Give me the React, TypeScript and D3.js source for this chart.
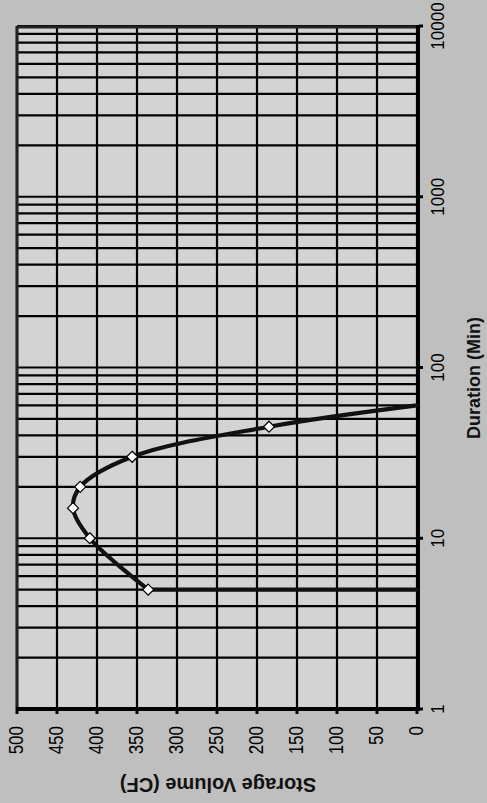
import React from 'react'
import * as d3 from 'd3'

// Storage volume vs. duration (chart is printed rotated 90° counter-clockwise)
const durations = [5, 5, 10, 15, 20, 30, 45, 60]
const volumes = [0, 336, 409, 430, 421, 356, 185, 0]
const hasMarker = [false, true, true, true, true, true, true, false]

const volumeTicks = [0, 50, 100, 150, 200, 250, 300, 350, 400, 450, 500]
const durationTicks = [1, 10, 100, 1000, 10000]

const W = 487
const H = 803
// plot box in screen coords
const PLOT = { left: 17, right: 417, top: 26, bottom: 709 }

const FONT = '"Liberation Sans", Arial, sans-serif'

type Pt = { dur: number; vol: number; marker: boolean }

export default function App() {
  // volume runs right -> left, duration runs bottom -> top
  const xVol = d3.scaleLinear().domain([0, 500]).range([PLOT.right, PLOT.left])
  const yDur = d3.scaleLog().domain([1, 10000]).range([PLOT.bottom, PLOT.top])

  const points: Pt[] = durations.map((d, i) => ({ dur: d, vol: volumes[i], marker: hasMarker[i] }))

  const straight = d3
    .line<Pt>()
    .x((d) => xVol(d.vol))
    .y((d) => yDur(d.dur))
  const smooth = straight.curve(d3.curveCatmullRom.alpha(0.5))
  // the rise at 5 min is a straight drop-in, the rest is a smoothed line
  const firstLeg = d3.line<Pt>().x((d) => xVol(d.vol)).y((d) => yDur(d.dur))(points.slice(0, 2)) ?? ''
  const rest = smooth(points.slice(1)) ?? ''

  const minorDur = yDur.ticks() // 1,2,...,9,10,20,...
  const diamond = (cx: number, cy: number, r: number) =>
    `M${cx},${cy - r}L${cx + r},${cy}L${cx},${cy + r}L${cx - r},${cy}Z`

  return (
    <svg
      width={W}
      height={H}
      style={{ position: 'absolute', left: 0, top: 0, display: 'block' }}
      fontFamily={FONT}
    >
      <rect x={0} y={0} width={W} height={H} fill="#bfbfbf" />
      <rect
        x={PLOT.left}
        y={PLOT.top}
        width={PLOT.right - PLOT.left}
        height={PLOT.bottom - PLOT.top}
        fill="#d3d3d3"
      />

      {/* grid: volume every 50 */}
      {volumeTicks.map((v) => (
        <line
          key={'gv' + v}
          x1={xVol(v)}
          x2={xVol(v)}
          y1={PLOT.top}
          y2={PLOT.bottom}
          stroke="#000"
          strokeWidth={2.2}
        />
      ))}
      {/* grid: log duration with minors */}
      {minorDur.map((d) => (
        <line
          key={'gd' + d}
          x1={PLOT.left}
          x2={PLOT.right}
          y1={yDur(d)}
          y2={yDur(d)}
          stroke="#000"
          strokeWidth={2.2}
        />
      ))}

      {/* plot frame */}
      <line x1={PLOT.left} x2={PLOT.right + 2} y1={PLOT.top + 1} y2={PLOT.top + 1} stroke="#222" strokeWidth={3} />
      <line x1={PLOT.left} x2={PLOT.left} y1={PLOT.top} y2={PLOT.bottom} stroke="#222" strokeWidth={3} />
      {/* axes (original x and y axes) */}
      <line x1={PLOT.left - 1} x2={PLOT.right + 2} y1={PLOT.bottom} y2={PLOT.bottom} stroke="#000" strokeWidth={4} />
      <line x1={PLOT.right + 1} x2={PLOT.right + 1} y1={PLOT.top - 1} y2={PLOT.bottom + 2} stroke="#000" strokeWidth={4} />

      {/* volume ticks + labels */}
      {volumeTicks.map((v) => (
        <g key={'tv' + v}>
          <line x1={xVol(v)} x2={xVol(v)} y1={PLOT.bottom} y2={PLOT.bottom + 5} stroke="#000" strokeWidth={3} />
          <text
            transform={`translate(${xVol(v) - 1.5},${PLOT.bottom + 17}) rotate(-90) scale(1,1.2)`}
            textAnchor="end"
            dominantBaseline="central"
            fontSize={17}
            fill="#000"
          >
            {v}
          </text>
        </g>
      ))}

      {/* duration ticks + labels */}
      {durationTicks.map((d) => (
        <g key={'td' + d}>
          <line x1={PLOT.right + 2} x2={PLOT.right + 6} y1={yDur(d)} y2={yDur(d)} stroke="#000" strokeWidth={3} />
          <text
            transform={`translate(${PLOT.right + 21},${yDur(d)}) rotate(-90) scale(1,1.08)`}
            textAnchor="middle"
            dominantBaseline="central"
            fontSize={17}
            fill="#000"
          >
            {d}
          </text>
        </g>
      ))}

      {/* series */}
      <path d={firstLeg} fill="none" stroke="#111" strokeWidth={4.2} strokeLinecap="round" />
      <path d={rest} fill="none" stroke="#111" strokeWidth={4.2} strokeLinejoin="round" strokeLinecap="round" />
      {points
        .filter((p) => p.marker)
        .map((p, i) => (
          <path
            key={'m' + i}
            d={diamond(xVol(p.vol), yDur(p.dur), 5.5)}
            fill="#fff"
            stroke="#000"
            strokeWidth={1.2}
          />
        ))}

      {/* axis titles */}
      <text
        transform={`translate(${(PLOT.left + PLOT.right) / 2 + 1},785) rotate(180)`}
        textAnchor="middle"
        dominantBaseline="central"
        fontSize={20}
        fontWeight="bold"
        fill="#111"
      >
        Storage Volume (CF)
      </text>
      <text
        transform={`translate(474,378) rotate(-90)`}
        textAnchor="middle"
        dominantBaseline="central"
        fontSize={18}
        fontWeight="bold"
        fill="#111"
      >
        Duration (Min)
      </text>
    </svg>
  )
}
